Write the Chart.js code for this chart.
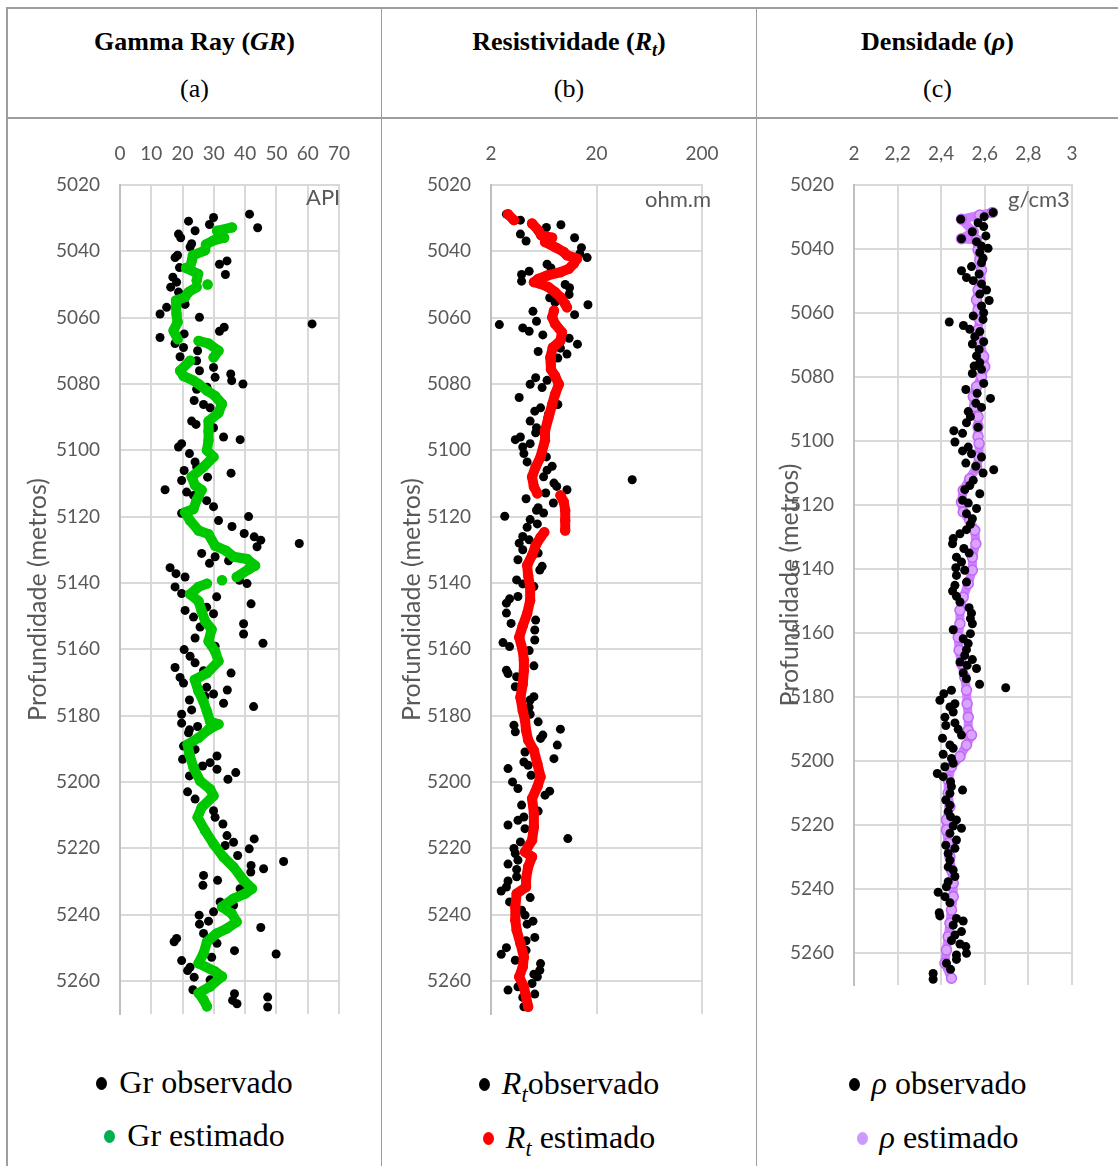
<!DOCTYPE html>
<html>
<head>
<meta charset="utf-8">
<script src="https://cdn.jsdelivr.net/npm/chart.js"></script>
<style>
  body { margin: 0; background: #fff; width: 1118px; height: 1166px; position: relative; overflow: hidden; }
  .ln { position: absolute; background: #9d9d9d; }
  .hd { position: absolute; text-align: center; font-family: "Liberation Serif", "Times New Roman", serif; font-size: 26px; color: #000; line-height: 30px; }
  .lg { position: absolute; text-align: center; font-family: "Liberation Serif", "Times New Roman", serif; font-size: 32px; color: #000; line-height: 36px; }
  .dot { display: inline-block; width: 11px; height: 13px; border-radius: 50%; vertical-align: middle; margin-right: 12px; position: relative; top: -2px; }
  .unit { position: absolute; font-family: Lato, sans-serif; font-size: 22px; color: #595959; line-height: 26px; }
  canvas { position: absolute; }
  sub { font-size: 70%; vertical-align: -0.35em; line-height: 0; }
</style>
</head>
<body>
<div class="ln" style="left:6px;top:7px;width:1112px;height:2px"></div>
<div class="ln" style="left:6px;top:117px;width:1112px;height:2px"></div>
<div class="ln" style="left:6px;top:7px;width:2px;height:1159px"></div>
<div class="ln" style="left:381px;top:7px;width:1px;height:1159px"></div>
<div class="ln" style="left:756px;top:7px;width:1px;height:1159px"></div>

<div class="hd" style="left:8px;width:373px;top:27px"><b>Gamma Ray (<i>GR</i>)</b></div>
<div class="hd" style="left:8px;width:373px;top:74px">(a)</div>
<div class="hd" style="left:382px;width:374px;top:27px"><b>Resistividade (<i>R</i><sub><i>t</i></sub>)</b></div>
<div class="hd" style="left:382px;width:374px;top:74px">(b)</div>
<div class="hd" style="left:757px;width:361px;top:27px"><b>Densidade (<i>ρ</i>)</b></div>
<div class="hd" style="left:757px;width:361px;top:74px">(c)</div>

<canvas id="chartGR" width="372" height="942" style="left:8px;top:120px"></canvas>
<canvas id="chartRT" width="373" height="942" style="left:382px;top:120px"></canvas>
<canvas id="chartRHO" width="361" height="942" style="left:757px;top:120px"></canvas>

<div class="unit" style="left:306px;top:184px">API</div>
<div class="unit" style="left:645px;top:186px">ohm.m</div>
<div class="unit" style="left:1008px;top:186px">g/cm3</div>

<div class="lg" style="left:8px;width:373px;top:1064px"><span class="dot" style="background:#000"></span>Gr observado</div>
<div class="lg" style="left:8px;width:373px;top:1117px"><span class="dot" style="background:#00b050"></span>Gr estimado</div>
<div class="lg" style="left:382px;width:374px;top:1065px"><span class="dot" style="background:#000"></span><i>R</i><sub><i>t</i></sub>observado</div>
<div class="lg" style="left:382px;width:374px;top:1119px"><span class="dot" style="background:#ff0000"></span><i>R</i><sub><i>t</i></sub> estimado</div>
<div class="lg" style="left:757px;width:361px;top:1065px"><span class="dot" style="background:#000"></span><i>ρ</i> observado</div>
<div class="lg" style="left:757px;width:361px;top:1119px"><span class="dot" style="background:#cc99ff"></span><i>ρ</i> estimado</div>

<script>
// depth range and tick labels
const depthMin = 5020;
const depthMax = 5270;
const grTicks = [0, 10, 20, 30, 40, 50, 60, 70];
const rtTicks = [2, 20, 200];
const rhoTicks = [2, 2.2, 2.4, 2.6, 2.8, 3];
const rhoTickLabels = ["2", "2,2", "2,4", "2,6", "2,8", "3"];

// Gamma ray - observed
const grObsDepth = [5028.8,5029.8,5030.9,5031.9,5032.9,5033.8,5034.8,5035.9,5037.7,5038.7,5041.2,5041.9,5042.9,5043.9,5044.9,5047,5047.8,5049.3,5050.8,5052.3,5056,5056.9,5058.9,5059.9,5061.9,5062.9,5064.1,5064.9,5066,5067.8,5069,5070,5071.8,5073,5075,5076,5077,5078,5079,5080,5081,5081.6,5085,5086.2,5087.2,5091.2,5092.2,5093.2,5096,5096.8,5098,5099,5101,5103.5,5105,5106.1,5106.9,5108.1,5109.1,5111.9,5112.6,5113.6,5115.2,5117,5119,5120,5121.2,5123,5125.1,5126.1,5127.1,5128.1,5129.1,5131.1,5132.1,5133.3,5134.1,5135.4,5137.2,5138.2,5139.2,5140.2,5141.2,5143.2,5144.2,5146.3,5147.3,5148.3,5149.3,5150.3,5152.3,5153.3,5155.4,5156.6,5158.2,5159.1,5160.1,5162.1,5164.1,5165.5,5166.5,5167.2,5168.5,5170.2,5171.5,5172.3,5173.5,5174.2,5175.3,5176.3,5177.3,5178.3,5179.6,5182.3,5183.3,5184.3,5185.2,5189.2,5190.2,5192.2,5193.2,5194.2,5195.2,5196.2,5197.2,5198.2,5199.2,5203,5205.2,5208.7,5210.7,5212.7,5216.2,5217.2,5218.2,5219.2,5220.2,5222.2,5224,5225.2,5226.2,5227.2,5228.2,5229.7,5231.2,5232.2,5236.2,5237.2,5239.2,5240.2,5242,5242.9,5243.9,5245.7,5247.2,5248.2,5248.7,5250.9,5251.9,5252.9,5253.9,5255.9,5256.9,5258.9,5259.7,5262.7,5263.9,5264.9,5265.9,5266.9,5267.9];
const grObsValue = [41.4,29.9,21.9,28.6,44,24,18.7,19.4,22.9,22.4,18.4,17.6,34.2,31.8,19,33.7,16.9,18.1,16.2,18.7,20.8,14.9,12.8,25.4,61.4,33.3,31.8,20.5,12.8,17.6,20.3,24.8,19.2,24.5,29.9,25.4,35.4,30.4,35.7,39.3,27.8,24.5,23.7,26.7,28.8,22.9,24.3,29.9,33.1,38.4,19.7,18.7,22.2,24,24.5,20.5,35.5,28,19.7,14.4,21.3,23.5,27.7,29.9,19.7,41.1,31.5,35.8,39.7,42.9,45,57.3,43.8,26.1,30.4,34.7,28.6,16,17.9,20.8,38.2,40.6,17.6,19.7,30.9,41.9,27.7,20.8,29.9,23.5,39.5,25.6,39.5,24,45.7,30.4,20.5,22.4,24,17.6,26.7,35.5,19.2,20.3,27.7,34.3,29.9,27.2,22.2,33.1,42.7,22.9,19.7,19.7,24.8,22.2,21.9,20.3,24,31,20,28.8,26.4,31,37,22.2,34.5,21.6,24,29.9,30.4,32.9,34.2,42.9,36.3,33.6,41.3,37.6,52.3,41.9,45.9,41.8,26.7,31.2,26.5,38.4,32,36.3,29.9,25.3,28.3,25.4,45,26.7,18.1,17.3,31,36.6,49.9,29.3,19.7,22.4,21.6,23.7,28.8,23.3,36.6,47.2,36,37.4,47.2];

// Gamma ray - estimated (null = break in the trace)
const grEstDepth = [5032.8,5033.8,5035.9,5036.7,5037.9,5039.7,5041.2,5042.7,5044.7,5045,5046.8,5048.8,5049.4,5050,5050.4,5050.8,5052.3,5053.8,5054.8,5056.9,5058.9,5061.4,5063.9,5066.5,5066.7,5067,5067.8,5070,5072,5072.5,5073,5076,5077.6,5079,5080,5082,5083.6,5086,5088.7,5091.2,5094.2,5097,5100,5102,5105,5108,5110.6,5112,5115,5117.7,5118.7,5121.2,5124.2,5125.3,5128.8,5130.3,5132.1,5132.8,5134.8,5135.9,5138.2,5138.7,5139.2,5139.7,5140.2,5141.2,5143.4,5145.5,5148.5,5151.5,5154,5157.6,5160.6,5163.6,5167.2,5169.2,5172.7,5175.8,5178.8,5181.8,5182.6,5184.2,5186.7,5188.7,5191.7,5195.7,5199.7,5202.2,5204.2,5207.7,5210.7,5214.7,5218.7,5222.7,5225.7,5229.7,5232.2,5233.7,5235.2,5237.7,5239.7,5242.2,5244.2,5245.7,5248.2,5251.7,5254.7,5257.2,5258.7,5261.7,5263.7,5265.7,5267.7];
const grEstValue = [35.8,31,33.3,29.9,27.5,27.2,23.3,23,22.4,21.1,25,24.5,null,28,null,24.5,21.9,20.8,17.9,17.9,18.1,18.4,17.1,18.4,null,25.1,28.3,31.5,29.9,null,22.4,19.2,20.3,23.5,25.1,27.8,30.4,32.6,31.5,28.3,28.3,28.3,27.8,29.9,26.7,22.9,24,26.1,24.5,23.5,20.8,22.4,25.1,28.3,30.4,33.9,36.3,40.6,43.2,41.1,37.3,null,32.6,null,27.8,25.1,22.4,25.1,26.1,27.2,29.3,28.3,30.4,31.5,27.8,23.9,25.1,26.7,27.8,28.8,31.5,28.3,25.1,21.6,22.2,23.5,25.6,28.8,29.9,26.1,24.8,27.2,29.9,33.1,36.3,39.5,42.2,40,36.3,32.6,35.7,37.3,34.2,30.9,27.8,26.7,25.1,30.4,32.6,28.8,25.1,26.7,27.8];

// Resistivity - observed
const rtObsDepth = [5028.8,5030.6,5032,5032.8,5034.8,5035.9,5036.9,5038.9,5040.7,5041.9,5043.9,5045,5046,5047,5049,5050,5051,5053,5054,5055.4,5056.1,5058.1,5059.1,5061.1,5062.1,5063.1,5064.1,5065.2,5066.2,5068,5069.2,5070.2,5071,5072.2,5078.1,5078.9,5080.1,5081.1,5084.1,5086.2,5087.2,5088.2,5089.2,5091.2,5093.2,5094.7,5096,5096.8,5098,5099,5101,5102,5103.5,5104.8,5106,5108,5108.9,5109.9,5110.9,5111.9,5112.9,5114.6,5115.9,5117.3,5118.1,5118.9,5119.9,5120.9,5122.2,5123.2,5126,5127,5128,5130,5131,5133,5135,5136.1,5139.1,5140.3,5141.1,5144.1,5144.8,5146.1,5149.1,5151.2,5152.2,5154.2,5157.2,5158,5159.2,5160.4,5165,5166.3,5167.3,5168.3,5171.3,5174.3,5175.3,5177.5,5179.6,5181.9,5182.9,5184.1,5184.9,5185.9,5186.9,5188.9,5191,5193,5194,5195,5196,5198,5200,5202,5202.8,5204,5207,5208.8,5210.6,5211.6,5213,5214.1,5217.1,5218.1,5220.1,5221.6,5223.6,5224.8,5226.4,5228.6,5229.9,5231.7,5232.9,5234.9,5236.2,5238.7,5240.2,5242,5242.9,5246.9,5247.9,5250,5250.8,5252,5253.8,5254.8,5256.8,5258,5258.8,5260.8,5261.8,5262.8,5264,5265,5267.8];
const rtObsValue = [2.8,3.8,9.2,6.7,3.8,12.4,4.3,14.4,13.9,16.3,6.8,7.4,4.6,3.9,3.9,10.1,11.1,11,7.2,8.1,16.6,5,12.4,5.4,2.4,4,4.6,6.2,11,13.2,9.1,5.6,10.5,8.6,5.3,6.8,4.7,6.1,3.7,8.6,5.9,5.2,7,4.7,5.4,5.3,3.8,3.4,4.7,4,4.1,6.7,4.4,7.6,6.8,6.3,43.6,7.9,8.4,10.5,6.6,4.3,7.8,5.6,5.4,6.3,2.7,4.7,5.5,4.4,4,4.6,3.7,4,5.6,3.6,6.1,5.8,3.5,4,5.1,3.6,3,2.8,2.8,5.3,3.1,5.2,5.2,2.6,3,4.6,5.1,2.8,2.9,3.5,3.4,5.1,4.7,4.6,4.7,5.6,3.3,9.1,3.4,6.2,5.9,8.5,4.2,7.9,4.1,4.5,2.9,4.8,3.2,3.6,7.2,6.5,3.9,5.6,4.1,3.6,2.9,4.2,10.7,3.8,3.3,3.4,3.6,2.9,3.5,3.5,2.9,2.8,2.5,4.7,3,3.9,4.2,5,4.4,5.2,4.3,2.8,4.3,2.5,3.4,5.9,5.8,5.1,5.5,4.9,3.6,2.9,5.2,4,4.1];

// Resistivity - estimated (null = break in the trace)
const rtEstDepth = [5028.8,5030.6,5031.1,5031.6,5033.6,5035.2,5035.9,5037.2,5038.9,5040.2,5041.2,5042.2,5043.7,5045.3,5046.3,5047.3,5048.3,5049.3,5049.8,5050.8,5052.3,5053.8,5055.9,5056.9,5057.4,5057.9,5059.9,5061.9,5064.4,5067,5069,5072,5075.6,5077.6,5080.1,5083.1,5086.2,5090.2,5094.2,5097,5102,5105,5108,5111,5113,5113.3,5113.6,5115.6,5118.1,5121.1,5124.2,5124.5,5124.7,5126.2,5128.7,5131.7,5134.7,5137.8,5141.3,5145.3,5149.3,5152.9,5156.4,5160.4,5163.4,5166.5,5170.5,5174.5,5178.5,5181.4,5184.4,5187.4,5190.5,5194.5,5198.5,5201.5,5205,5209.5,5213.6,5217.6,5221.1,5222.6,5225.6,5229.1,5231.7,5233.7,5237.7,5241.7,5244.7,5248.7,5252.8,5255.8,5258.8,5261.8,5264.8,5267.8];
const rtEstValue = [2.9,3.3,null,4.9,5.6,6,7.6,6.5,8.3,9.8,10.5,13.1,12.2,10.9,9.1,6.8,5.6,5.1,5.9,7,8.1,9.1,10.1,10.5,null,7.9,7.6,8.1,9.4,9.1,7.7,7.3,7.4,8.1,8.8,8.1,7.6,7,6.5,6.5,5.9,5.3,4.9,5.1,5.5,null,9.1,9.8,10.1,10.1,10.1,null,6.4,5.9,5.3,4.9,4.4,4.5,4.7,4.7,4.4,4,3.7,4,4.1,4.1,4,3.8,4,4.2,4.3,4.5,5.1,5.5,5.9,5.5,4.9,5.1,5.1,4.9,4.2,4.9,4.5,4.3,4.3,3.5,3.4,3.4,3.5,3.8,4.1,4,3.7,4.1,4.3,4.5];

// Density - observed
const rhoObsDepth = [5028.6,5029.9,5030.7,5031.8,5033,5034.6,5035.9,5036.8,5037.7,5039.1,5039.8,5041.1,5042.9,5044.3,5045.5,5046.8,5047.8,5048.9,5049.9,5050.9,5052.8,5054.1,5056.1,5057.8,5059.9,5060.9,5062,5062.8,5063.9,5065.1,5065.8,5067.4,5069,5069.7,5071.4,5073.4,5075.5,5076.6,5077.6,5078.9,5082,5083.9,5085.1,5086.7,5088.2,5089.5,5090.8,5092.4,5094.3,5095.7,5096.8,5097.6,5100.3,5101.9,5103.1,5104,5105,5106.9,5107.9,5109,5110,5112.3,5113.9,5115.2,5116.5,5118.5,5119.4,5121.1,5122.7,5124.3,5126,5127.7,5129,5130.5,5132.1,5133.6,5135,5136.3,5137.8,5139.6,5140.4,5142,5144.1,5145.1,5146.9,5148.5,5150.3,5152.1,5153.8,5155.5,5157.1,5159,5160.2,5161.8,5163.3,5165.2,5167,5168.3,5169.1,5170.1,5171.1,5172.5,5174.3,5176,5177.1,5177.9,5179,5181,5182.1,5183.1,5184.7,5186.3,5188.1,5188.9,5190.1,5191.9,5192.9,5195,5196,5197.9,5199.2,5200.7,5201.8,5203.9,5204.9,5206.5,5208,5209.1,5210.1,5212.2,5213.8,5215.8,5217.4,5218.4,5220.3,5221,5222.6,5224.7,5226.3,5227.3,5228.9,5231,5233.1,5234.1,5236.1,5237.7,5239.3,5241,5242.4,5244.3,5247.4,5248.4,5249.2,5250,5251.3,5253.3,5254.4,5256.1,5257.2,5258,5260.1,5260.6,5262,5263.2,5265.1,5266.4,5268.2];
const rhoObsValue = [2.638,2.597,2.49,2.569,2.595,2.543,2.605,2.493,2.562,2.585,2.615,2.577,2.592,2.585,2.539,2.493,2.574,2.516,2.547,2.585,2.608,2.577,2.62,2.585,2.595,2.547,2.592,2.437,2.502,2.531,2.577,2.554,2.595,2.543,2.574,2.562,2.577,2.551,2.585,2.543,2.595,2.513,2.565,2.626,2.559,2.585,2.524,2.534,2.516,2.569,2.458,2.498,2.463,2.524,2.498,2.539,2.585,2.513,2.559,2.641,2.592,2.547,2.531,2.508,2.577,2.498,2.524,2.562,2.516,2.543,2.534,2.516,2.486,2.455,2.452,2.504,2.528,2.47,2.493,2.467,2.508,2.47,2.516,2.463,2.452,2.47,2.486,2.528,2.539,2.534,2.543,2.455,2.534,2.501,2.524,2.516,2.508,2.543,2.486,2.519,2.562,2.501,2.516,2.576,2.696,2.447,2.412,2.394,2.463,2.44,2.455,2.417,2.463,2.421,2.478,2.493,2.406,2.44,2.455,2.409,2.447,2.455,2.417,2.382,2.409,2.443,2.447,2.498,2.44,2.421,2.44,2.432,2.443,2.47,2.455,2.493,2.44,2.47,2.421,2.463,2.432,2.44,2.432,2.455,2.463,2.432,2.424,2.386,2.417,2.44,2.391,2.394,2.47,2.501,2.455,2.493,2.463,2.447,2.486,2.513,2.516,2.47,2.47,2.424,2.443,2.363,2.363];

// Density - estimated
const rhoEstDepth = [5028.6,5029.4,5030.7,5034.6,5036.8,5037.2,5040.3,5043.4,5046.6,5049.7,5052.8,5055.9,5059.1,5062.2,5065.3,5069.5,5073.6,5076.8,5079.9,5083,5086.1,5089.3,5092.4,5095.5,5098.6,5100.8,5105,5108.1,5111.8,5115.4,5119.1,5122.2,5124.8,5127.9,5132.1,5136.3,5140.4,5144.6,5148.8,5152.9,5157.1,5161.3,5165.4,5169.6,5173.8,5177.9,5182.1,5186.3,5190.4,5191.9,5195,5198.6,5201.8,5205.9,5210.1,5214.3,5218.4,5221.6,5225.7,5229.9,5234.1,5238.2,5242.4,5246.6,5250.7,5254.9,5259.1,5263.2,5267.9];
const rhoEstValue = [2.635,2.577,2.493,2.547,2.493,2.562,2.569,2.577,2.585,2.577,2.569,2.562,2.569,2.577,2.569,2.577,2.595,2.6,2.585,2.562,2.547,2.553,2.569,2.569,2.569,2.574,2.574,2.562,2.531,2.501,2.493,2.501,2.531,2.554,2.559,2.543,2.543,2.524,2.501,2.486,2.486,2.478,2.482,2.493,2.508,2.516,2.519,2.524,2.524,2.539,2.516,2.486,2.447,2.432,2.432,2.44,2.424,2.424,2.432,2.44,2.447,2.455,2.455,2.447,2.44,2.432,2.424,2.417,2.447];

function pts(depths, values) {
  return depths.map((d, i) => values[i] === null ? { x: null, y: null } : { x: values[i], y: d });
}

Chart.defaults.font.family = "Lato, sans-serif";
Chart.defaults.color = "#595959";

const tickFont = { size: 19 };
const gridColor = "#d9d9d9";

function yAxis(width, titlePad) {
  return {
    type: "linear",
    reverse: true,
    min: depthMin,
    max: depthMax,
    afterFit: s => { s.width = width; },
    ticks: { stepSize: 20, includeBounds: false, padding: 20, font: tickFont, color: "#595959", callback: v => String(v) },
    grid: { color: gridColor, lineWidth: 2, drawTicks: false },
    border: { color: "#bfbfbf", width: 2 },
    title: { display: true, text: "Profundidade (metros)", color: "#595959", font: { size: 25 }, padding: { top: titlePad, bottom: 0 } }
  };
}

function xAxisBase() {
  return {
    position: "top",
    afterFit: s => { s.height = 65; },
    grid: { color: gridColor, lineWidth: 2, drawTicks: false },
    border: { color: gridColor, width: 2 },
    ticks: { padding: 20, font: tickFont, color: "#595959", maxRotation: 0, autoSkip: false }
  };
}

const common = {
  responsive: false,
  animation: false,
  plugins: { legend: { display: false }, tooltip: { enabled: false } }
};

// (a) Gamma Ray
const xGR = xAxisBase();
Object.assign(xGR, { type: "linear", min: 0, max: 70 });
xGR.afterBuildTicks = s => { s.ticks = grTicks.map(v => ({ value: v })); };
new Chart(document.getElementById("chartGR"), {
  type: "scatter",
  data: {
    datasets: [
      { label: "Gr estimado", data: pts(grEstDepth, grEstValue), showLine: true, spanGaps: false,
        borderColor: "#00c800", borderWidth: 10, borderCapStyle: "round", borderJoinStyle: "round",
        pointRadius: 5.2, pointBackgroundColor: "#00c800", pointBorderWidth: 0 },
      { label: "Gr observado", data: pts(grObsDepth, grObsValue),
        pointRadius: 4.5, pointBackgroundColor: "#000", pointBorderWidth: 0 }
    ]
  },
  options: Object.assign({}, common, {
    layout: { padding: { left: 0, top: 0, right: 41, bottom: 48 } },
    scales: { x: xGR, y: yAxis(112, 15) }
  })
});

// (b) Resistividade
const xRT = xAxisBase();
Object.assign(xRT, { type: "logarithmic", min: 2, max: 200 });
xRT.afterBuildTicks = s => { s.ticks = rtTicks.map(v => ({ value: v })); };
xRT.ticks.callback = v => String(v);
new Chart(document.getElementById("chartRT"), {
  type: "scatter",
  data: {
    datasets: [
      { label: "Rt estimado", data: pts(rtEstDepth, rtEstValue), showLine: true, spanGaps: false,
        borderColor: "#ff0000", borderWidth: 10, borderCapStyle: "round", borderJoinStyle: "round",
        pointRadius: 5.2, pointBackgroundColor: "#ff0000", pointBorderWidth: 0 },
      { label: "Rt observado", data: pts(rtObsDepth, rtObsValue),
        pointRadius: 4.5, pointBackgroundColor: "#000", pointBorderWidth: 0 }
    ]
  },
  options: Object.assign({}, common, {
    layout: { padding: { left: 0, top: 0, right: 53, bottom: 48 } },
    scales: { x: xRT, y: yAxis(109, 15) }
  })
});

// (c) Densidade
const xRHO = xAxisBase();
Object.assign(xRHO, { type: "linear", min: 2, max: 3 });
xRHO.afterBuildTicks = s => { s.ticks = rhoTicks.map(v => ({ value: v })); };
xRHO.ticks.callback = (v, i) => rhoTickLabels[i];
new Chart(document.getElementById("chartRHO"), {
  type: "scatter",
  data: {
    datasets: [
      { label: "ρ observado", data: pts(rhoObsDepth, rhoObsValue),
        pointRadius: 4.5, pointBackgroundColor: "#000", pointBorderWidth: 0 },
      { label: "ρ estimado", data: pts(rhoEstDepth, rhoEstValue), showLine: true, spanGaps: false,
        borderColor: "#cc80ff", borderWidth: 9, borderCapStyle: "round", borderJoinStyle: "round",
        pointRadius: 5, pointBackgroundColor: "#d9a3ff", pointBorderColor: "#c266f5", pointBorderWidth: 1.5 }
    ]
  },
  options: Object.assign({}, common, {
    layout: { padding: { left: 0, top: 0, right: 46, bottom: 77 } },
    scales: { x: xRHO, y: yAxis(97, 18) }
  })
});
</script>
</body>
</html>
